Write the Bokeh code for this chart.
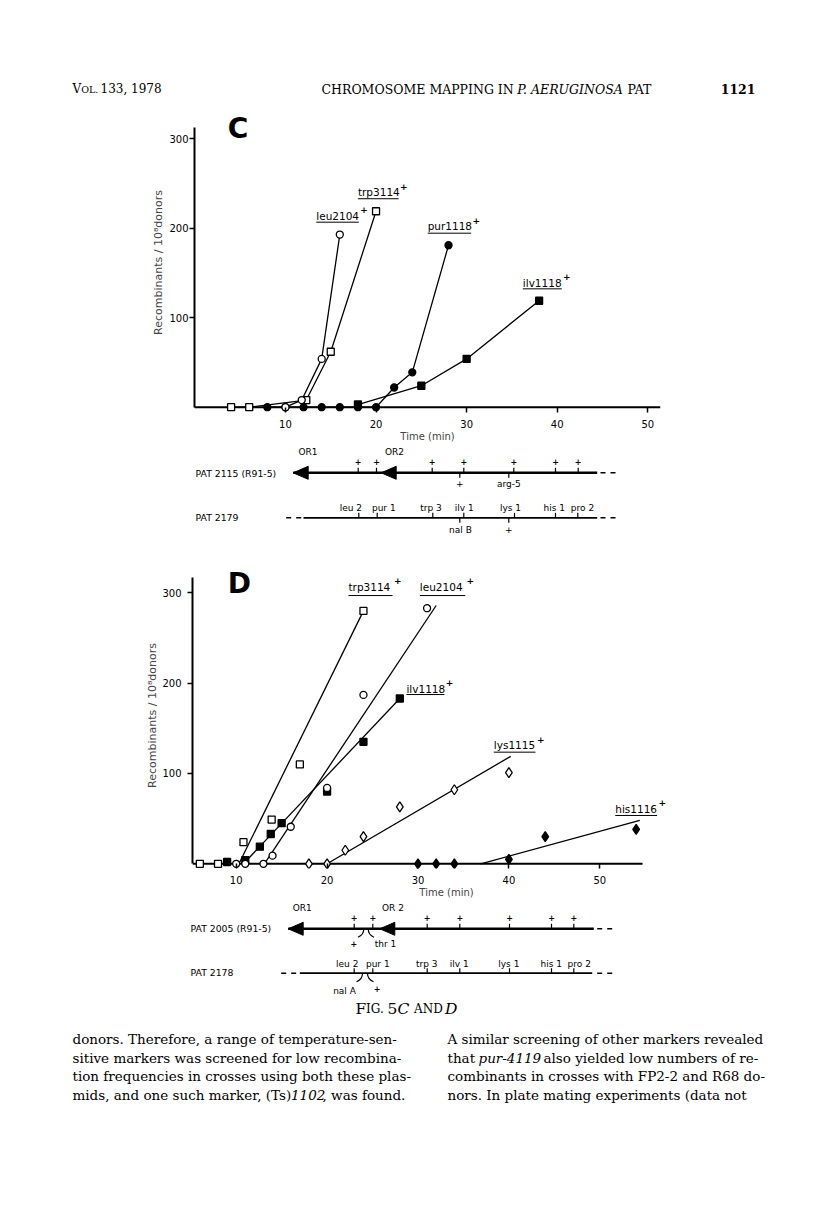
from bokeh.plotting import figure
from bokeh.models import Range1d, FixedTicker
from bokeh.layouts import column
from bokeh.core.properties import value
from bokeh.embed import file_html
from bokeh.resources import INLINE

# ---------------- data : panel C (points joined by lines) ----------------
C_TRP_X = [4, 6, 12.3, 15, 20]
C_TRP_Y = [0, 0, 8, 62, 219]
C_LEU_X = [10, 11.8, 14, 16]
C_LEU_Y = [0, 8, 54, 193]
C_PUR_X = [8, 10, 12, 14, 16, 18, 20, 22, 24, 28]
C_PUR_Y = [0, 0, 0, 0, 0, 0, 0, 22, 39, 181]
C_ILV_X = [18, 25, 30, 38]
C_ILV_Y = [3, 24, 54, 119]
C_LABELS = ["leu2104", "trp3114", "pur1118", "ilv1118"]

# ---------------- data : panel D (points + fitted lines) ----------------
D_TRP_X = [6, 8, 10.8, 13.9, 17, 24]
D_TRP_Y = [0, 0, 24, 49, 110, 280]
D_TRP_FIT_X = [10.3, 24]
D_TRP_FIT_Y = [0, 280]
D_LEU_X = [10, 11, 13, 14, 16, 20, 24, 31]
D_LEU_Y = [0, 0, 0, 9, 41, 84, 187, 283]
D_LEU_FIT_X = [13.1, 32]
D_LEU_FIT_Y = [0, 286]
D_ILV_X = [9, 11, 12.6, 13.8, 15, 20, 24, 28]
D_ILV_Y = [2, 4, 19, 33, 45, 80, 135, 183]
D_ILV_FIT_X = [10.8, 28]
D_ILV_FIT_Y = [0, 183]
D_LYS_X = [18, 20, 22, 24, 28, 34, 40]
D_LYS_Y = [0, 0, 15, 30, 63, 82, 101]
D_LYS_FIT_X = [20, 40.2]
D_LYS_FIT_Y = [0, 119]
D_HIS_X = [30, 32, 34, 40, 44, 54]
D_HIS_Y = [0, 0, 0, 5, 30, 38]
D_HIS_FIT_X = [36.9, 54.4]
D_HIS_FIT_Y = [0, 48]
D_LABELS = ["trp3114", "leu2104", "ilv1118", "lys1115", "his1116"]

X_TICKS = [10, 20, 30, 40, 50]
Y_TICKS = [100, 200, 300]

# ---------------- map diagrams (page-pixel positions) ----------------
MAPC_TOP_PLUS = [357.7, 376, 431.7, 463.3, 513.3, 555, 577.7]
MAPC_TOP_BELOW = [459.3, 508.3]
MAPC_TOP_BELOW_LBL = ["+", "arg-5"]
MAPC_GENES = ["leu 2", "pur 1", "trp 3", "ilv 1", "lys 1", "his 1", "pro 2"]
MAPC_GENE_TICKS = [358.3, 376.7, 432.3, 463.3, 514, 555, 577.3]
MAPC_GENE_LBL_X = [350.3, 383.3, 430.5, 463.7, 510, 553.7, 582]
MAPC_BOT_BELOW = [459.3, 508.3]
MAPC_BOT_BELOW_LBL = ["nal B", "+"]

MAPD_TOP_PLUS = [353.7, 372.3, 426.7, 459.3, 509, 551, 573.3]
MAPD_GENES = ["leu 2", "pur 1", "trp 3", "ilv 1", "lys 1", "his 1", "pro 2"]
MAPD_GENE_TICKS = [353.7, 372.3, 426.7, 459.3, 509, 551, 573.3]
MAPD_GENE_LBL_X = [346.7, 377.3, 426.3, 458.7, 508.3, 550.7, 578.7]

SANS = "DejaVu Sans"
SERIF = "DejaVu Serif"


def txt(p, xs, ys, texts, size, font=SANS, align="left", baseline="middle", style="normal"):
    p.text(x=xs, y=ys, text=texts, text_font=value(font), text_font_size=value(size),
           text_align=align, text_baseline=baseline, text_font_style=style, text_color="black")


def page_fig(y0, h):
    p = figure(width=800, height=h, x_range=Range1d(0, 800), y_range=Range1d(y0 + h, y0),
               x_axis_type=None, y_axis_type=None, min_border=0, frame_align=False,
               output_backend="svg", toolbar_location=None)
    p.outline_line_color = None
    p.background_fill_color = "white"
    p.border_fill_color = "white"
    return p


def chart_fig(h, xr, yr, bl, br, bt, bb, ytop, ylab_standoff, ytick_standoff):
    p = figure(width=800, height=h, x_range=Range1d(*xr), y_range=Range1d(*yr),
               min_border_left=bl, min_border_right=br, min_border_top=bt, min_border_bottom=bb,
               frame_align=False, output_backend="svg", toolbar_location=None)
    p.grid.visible = False
    p.outline_line_color = None
    p.background_fill_color = "white"
    p.border_fill_color = "white"
    xa = p.xaxis[0]
    xa.ticker = FixedTicker(ticks=X_TICKS)
    xa.axis_line_color = None
    xa.major_tick_in = 5
    xa.major_tick_out = 0
    xa.minor_tick_in = 0
    xa.minor_tick_out = 0
    xa.major_tick_line_width = 1.5
    xa.major_label_standoff = 7
    xa.major_label_text_font = SANS
    xa.major_label_text_font_size = "10px"
    xa.major_label_text_color = "black"
    xa.axis_label = "Time (min)"
    xa.axis_label_text_font = SANS
    xa.axis_label_text_font_size = "10px"
    xa.axis_label_text_font_style = "normal"
    xa.axis_label_standoff = 0
    ya = p.yaxis[0]
    ya.ticker = FixedTicker(ticks=Y_TICKS)
    ya.bounds = (0, ytop)
    ya.axis_line_width = 2
    ya.major_tick_out = 5
    ya.major_tick_in = 0
    ya.minor_tick_in = 0
    ya.minor_tick_out = 0
    ya.major_tick_line_width = 1.5
    ya.major_label_standoff = ytick_standoff
    ya.major_label_text_font = SANS
    ya.major_label_text_font_size = "10px"
    ya.major_label_text_color = "black"
    ya.axis_label = "Recombinants / 10\u2078donors"
    ya.axis_label_text_font = SANS
    ya.axis_label_text_font_size = "11px"
    ya.axis_label_text_font_style = "normal"
    ya.axis_label_standoff = ylab_standoff
    return p


def markers(p, xs, ys, marker, filled, size=7):
    p.scatter(xs, ys, marker=marker, size=size, line_color="black", line_width=1.3,
              fill_color="black" if filled else "white")


def series_labels(p, names, x0s, x1s, ty, uy, plus_dy):
    txt(p, x0s, ty, names, "10.5px")
    p.segment(x0=x0s, y0=uy, x1=x1s, y1=uy, line_color="black", line_width=1)
    txt(p, [x + 0.15 for x in x1s], [y + plus_dy for y in ty], ["+"] * len(names), "9px",
        style="bold")


# ---------------- header ----------------
hdr = page_fig(0, 108)
HY = 88.5
txt(hdr, [72], [HY], ["V"], "12px", SERIF)
txt(hdr, [80.7], [HY], ["OL."], "9.5px", SERIF)
txt(hdr, [100], [HY], ["133, 1978"], "12px", SERIF)
txt(hdr, [321], [HY], ["CHROMOSOME MAPPING IN"], "12.5px", SERIF)
txt(hdr, [516.7], [HY], ["P. AERUGINOSA"], "12.5px", SERIF, style="italic")
txt(hdr, [627], [HY], ["PAT"], "12.5px", SERIF)
txt(hdr, [755], [HY], ["1121"], "12.5px", SERIF, align="right", style="bold")

# ---------------- panel C ----------------
C_XAXIS = (-0.04, 51.4)
C_YTOP = 312.6
pc = chart_fig(337, C_XAXIS, (-5.92, 329.4), 194, 140, 4, 33, C_YTOP, 1, 1)
pc.segment(x0=[C_XAXIS[0]], y0=[0], x1=[C_XAXIS[1]], y1=[0], line_color="black", line_width=2)
for xs, ys in [(C_TRP_X, C_TRP_Y), (C_LEU_X, C_LEU_Y), (C_PUR_X, C_PUR_Y), (C_ILV_X, C_ILV_Y)]:
    pc.line(xs, ys, line_color="black", line_width=1.3)
markers(pc, C_PUR_X, C_PUR_Y, "circle", True)
markers(pc, C_ILV_X, C_ILV_Y, "square", True)
markers(pc, C_TRP_X, C_TRP_Y, "square", False)
markers(pc, C_LEU_X, C_LEU_Y, "circle", False)
series_labels(pc, C_LABELS, [13.4, 18.0, 25.7, 36.2], [18.1, 22.5, 30.5, 40.5],
              [213.5, 240, 202, 138.6], [206.8, 233, 194.5, 132.3], 7)
txt(pc, [3.63], [311.5], ["C"], "28px", style="bold")

# ---------------- map C ----------------
mc = page_fig(445, 115)
ly = 472.3
txt(mc, [307.5, 394], [451.7, 451.7], ["OR1", "OR2"], "9px", align="center")
txt(mc, [195], [ly + 1], ["PAT 2115 (R91-5)"], "9.3px")
mc.segment(x0=[292.7], y0=[ly], x1=[596.7], y1=[ly], line_color="black", line_width=2.6)
mc.segment(x0=[600], y0=[ly], x1=[616], y1=[ly], line_color="black", line_width=1.6, line_dash="5 5")
tips = [292.7, 380.7]
mc.patches(xs=[[t, t + 15, t + 15] for t in tips], ys=[[ly, ly - 6.5, ly + 6.5] for _ in tips],
           fill_color="black", line_color="black")
mc.segment(x0=MAPC_TOP_PLUS, y0=[ly - 5] * 7, x1=MAPC_TOP_PLUS, y1=[ly] * 7, line_color="black", line_width=1.2)
txt(mc, MAPC_TOP_PLUS, [ly - 11] * 7, ["+"] * 7, "8px", align="center", style="bold")
mc.segment(x0=MAPC_TOP_BELOW, y0=[ly] * 2, x1=MAPC_TOP_BELOW, y1=[ly + 5] * 2, line_color="black", line_width=1.2)
txt(mc, MAPC_TOP_BELOW, [ly + 11] * 2, MAPC_TOP_BELOW_LBL, "9px", align="center")
by = 517.3
txt(mc, [195], [by], ["PAT 2179"], "9.3px")
mc.segment(x0=[303], y0=[by], x1=[596.7], y1=[by], line_color="black", line_width=1.8)
mc.segment(x0=[285.7, 600], y0=[by, by], x1=[301, 616], y1=[by, by], line_color="black",
           line_width=1.6, line_dash="5 5")
mc.segment(x0=MAPC_GENE_TICKS, y0=[by - 5] * 7, x1=MAPC_GENE_TICKS, y1=[by] * 7, line_color="black", line_width=1.2)
txt(mc, MAPC_GENE_LBL_X, [by - 10] * 7, MAPC_GENES, "9px", align="center")
mc.segment(x0=MAPC_BOT_BELOW, y0=[by] * 2, x1=MAPC_BOT_BELOW, y1=[by + 5] * 2, line_color="black", line_width=1.2)
txt(mc, [460, 508.3], [by + 12] * 2, MAPC_BOT_BELOW_LBL, "9px", align="center")

# ---------------- panel D ----------------
D_XAXIS = (5.192, 54.7)
D_YTOP = 317
pd = chart_fig(342, (5.192, 61.08), (-5.2, 333.6), 192, 100, 2, 34, D_YTOP, 0, 6)
pd.segment(x0=[D_XAXIS[0]], y0=[0], x1=[D_XAXIS[1]], y1=[0], line_color="black", line_width=2)
for xs, ys in [(D_TRP_FIT_X, D_TRP_FIT_Y), (D_LEU_FIT_X, D_LEU_FIT_Y), (D_ILV_FIT_X, D_ILV_FIT_Y),
               (D_LYS_FIT_X, D_LYS_FIT_Y), (D_HIS_FIT_X, D_HIS_FIT_Y)]:
    pd.line(xs, ys, line_color="black", line_width=1.3)
markers(pd, D_ILV_X, D_ILV_Y, "square", True)
markers(pd, D_HIS_X, D_HIS_Y, "diamond", True, 10)
markers(pd, D_TRP_X, D_TRP_Y, "square", False)
markers(pd, D_LEU_X, D_LEU_Y, "circle", False)
markers(pd, D_LYS_X, D_LYS_Y, "diamond", False, 10)
series_labels(pd, D_LABELS, [22.35, 30.2, 28.73, 38.34, 51.7], [27.2, 35.2, 32.9, 42.93, 56.3],
              [306.2, 306.2, 193.7, 131, 60.9], [297, 297, 187.4, 123.6, 53.5], 7)
txt(pd, [9.07], [310], ["D"], "28px", style="bold")

# ---------------- map D + caption ----------------
md = page_fig(902, 118)
ly = 928.3
txt(md, [301.7, 392.5], [907.2, 907.2], ["OR1", "OR 2"], "9px", align="center")
txt(md, [190], [ly], ["PAT 2005 (R91-5)"], "9.3px")
md.segment(x0=[287.7], y0=[ly], x1=[593.3], y1=[ly], line_color="black", line_width=2.6)
md.segment(x0=[596.7], y0=[ly], x1=[612], y1=[ly], line_color="black", line_width=1.6, line_dash="5 5")
tips = [287.7, 379.3]
md.patches(xs=[[t, t + 15, t + 15] for t in tips], ys=[[ly, ly - 6.5, ly + 6.5] for _ in tips],
           fill_color="black", line_color="black")
md.segment(x0=MAPD_TOP_PLUS, y0=[ly - 5] * 7, x1=MAPD_TOP_PLUS, y1=[ly] * 7, line_color="black", line_width=1.2)
txt(md, MAPD_TOP_PLUS, [ly - 11.5] * 7, ["+"] * 7, "8px", align="center", style="bold")
md.quadratic(x0=[363.3, 367.7], y0=[ly, ly], x1=[357.5, 373.5], y1=[ly + 8.5, ly + 8.5],
             cx=[363.3, 367.7], cy=[ly + 6, ly + 6], line_color="black", line_width=1.2)
txt(md, [353.3], [ly + 15], ["+"], "8px", align="center", style="bold")
txt(md, [385], [ly + 15], ["thr 1"], "9px", align="center")
by = 972.7
txt(md, [190], [by - 1], ["PAT 2178"], "9.3px")
md.segment(x0=[299.3], y0=[by], x1=[591.7], y1=[by], line_color="black", line_width=1.8)
md.segment(x0=[280.7, 596.7], y0=[by, by], x1=[296, 612], y1=[by, by], line_color="black",
           line_width=1.6, line_dash="5 5")
md.segment(x0=MAPD_GENE_TICKS, y0=[by - 5] * 7, x1=MAPD_GENE_TICKS, y1=[by] * 7, line_color="black", line_width=1.2)
txt(md, MAPD_GENE_LBL_X, [by - 9.5] * 7, MAPD_GENES, "9px", align="center")
md.quadratic(x0=[362, 367], y0=[by, by], x1=[356, 373], y1=[by + 8.5, by + 8.5],
             cx=[362, 367], cy=[by + 6, by + 6], line_color="black", line_width=1.2)
txt(md, [344], [by + 17.5], ["nal A"], "9px", align="center")
txt(md, [376.7], [by + 15.5], ["+"], "8px", align="center", style="bold")
CY = 1008.3
txt(md, [355], [CY], ["F"], "15.5px", SERIF)
txt(md, [365.5], [CY], ["IG."], "12px", SERIF)
txt(md, [387], [CY], ["5"], "15.5px", SERIF)
txt(md, [397], [CY], ["C"], "15.5px", SERIF, style="italic")
txt(md, [413.5], [CY], ["AND"], "12px", SERIF)
txt(md, [444.5], [CY], ["D"], "15.5px", SERIF, style="italic")

# ---------------- body text ----------------
bt = page_fig(1020, 185)
LINE_Y = [1038.3, 1057, 1075.7, 1094.3]
LX, RX = 72, 447
FS = "13.5px"
LEFT = ["donors. Therefore, a range of temperature-sen-",
        "sitive markers was screened for low recombina-",
        "tion frequencies in crosses using both these plas-"]
txt(bt, [LX] * 3, LINE_Y[:3], LEFT, FS, SERIF)
txt(bt, [LX], [LINE_Y[3]], ["mids, and one such marker, (Ts)"], FS, SERIF)
txt(bt, [290.5], [LINE_Y[3]], ["1102"], FS, SERIF, style="italic")
txt(bt, [322], [LINE_Y[3]], [", was found."], FS, SERIF)
txt(bt, [RX], [LINE_Y[0]], ["A similar screening of other markers revealed"], FS, SERIF)
txt(bt, [RX], [LINE_Y[1]], ["that"], FS, SERIF)
txt(bt, [478], [LINE_Y[1]], ["pur-4119"], FS, SERIF, style="italic")
txt(bt, [543], [LINE_Y[1]], ["also yielded low numbers of re-"], FS, SERIF)
txt(bt, [RX] * 2, LINE_Y[2:], ["combinants in crosses with FP2-2 and R68 do-",
                               "nors. In plate mating experiments (data not"], FS, SERIF)

page = column(hdr, pc, mc, pd, md, bt, spacing=0)
open("out.html", "w").write(file_html(page, INLINE))
